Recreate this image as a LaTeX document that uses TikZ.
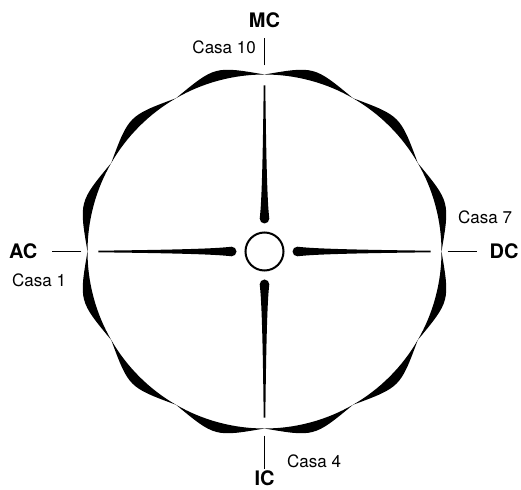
\documentclass[tikz,border=0pt]{standalone}
\usepackage{fontspec}
\setmainfont{TeX Gyre Heros}
\usetikzlibrary{positioning}

\tikzset{
    lune/.style={fill=black},
    spoke/.style={fill=black},
    tick/.style={line width=1.3pt},
    casa/.style={font=\fontsize{17}{20}\selectfont, inner sep=0pt},
    angolo/.style={font=\fontsize{20}{24}\selectfont\bfseries, inner sep=0pt},
}

\begin{document}
\begin{tikzpicture}[x=1pt, y=1pt, node distance=10pt]
    \useasboundingbox (-264.5,-237.5) rectangle (256.5,251.5);
    \def\R{177}

    % outer ring of crescents
    \foreach \a in {0,30,...,330} {
        \fill[lune] (\a:\R) arc[start angle=\a, delta angle=30, radius=\R]
            .. controls (\a+15:192) .. (\a:\R) -- cycle;
    }

    % spokes
    \foreach \a in {0,90,180,270} {
        \fill[spoke, rotate=\a] (166,0.8) .. controls (100,1.6) and (50,2.6) .. (33,4.8)
            arc[start angle=90, end angle=270, x radius=5, y radius=4.8]
            .. controls (50,-2.6) and (100,-1.6) .. (166,-0.8) -- cycle;
    }

    \node[circle, draw, line width=2pt, minimum size=38pt, inner sep=0pt] (centro) at (0,0) {};

    % ticks
    \coordinate (mcA) at (90:186);
    \coordinate (mcB) at (90:213);
    \coordinate (acA) at (180:183);
    \coordinate (acB) at (180:212);
    \coordinate (dcA) at (0:183);
    \coordinate (dcB) at (0:212);
    \coordinate (icA) at (270:184);
    \coordinate (icB) at (270:217);

    \draw[tick] (mcA) -- (mcB);
    \draw[tick] (acA) -- (acB);
    \draw[tick] (dcA) -- (dcB);
    \draw[tick] (icA) -- (icB);

    \node[angolo, above=11pt of mcB] (mc) {MC};
    \node[angolo, left=15pt of acB] (ac) {AC};
    \node[angolo, right=13pt of dcB] (dc) {DC};
    \node[angolo, below=2pt of icB] (ic) {IC};

    \node[casa, anchor=base east] (casa10) at (-8.5,198.2) {Casa 10};
    \node[casa, anchor=base west] (casa1) at (-252.5,-35.5) {Casa 1};
    \node[casa, anchor=base west] (casa7) at (193.5,27.5) {Casa 7};
    \node[casa, anchor=base west] (casa4) at (22.5,-215.5) {Casa 4};
\end{tikzpicture}
\end{document}
